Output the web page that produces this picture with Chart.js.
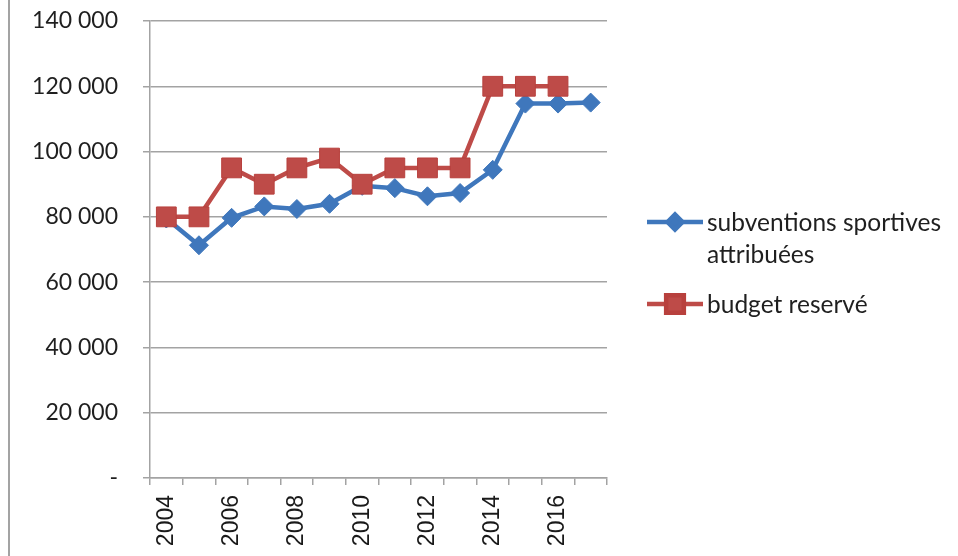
<!DOCTYPE html>
<html>
<head>
<meta charset="utf-8">
<script src="https://cdn.jsdelivr.net/npm/chart.js@4/dist/chart.umd.min.js"></script>
<style>
  html, body { margin: 0; padding: 0; background: #fff; }
  #wrap { width: 958px; height: 556px; }
</style>
</head>
<body>
<div id="wrap"><canvas id="subventionsChart" width="958" height="556"></canvas></div>
<script>
// Années et montants (en euros)
const annees = ['2004', '2005', '2006', '2007', '2008', '2009', '2010', '2011', '2012', '2013', '2014', '2015', '2016', '2017'];
const subventionsAttribuees = [79500, 71300, 79700, 83200, 82400, 84000, 89500, 88800, 86300, 87300, 94400, 114700, 114700, 115000];
const budgetReserve = [80000, 80000, 95000, 90000, 95000, 98000, 90000, 95000, 95000, 95000, 120000, 120000, 120000, null];
const libelles = [['subventions sportives', 'attribuées'], ['budget reservé']];

const bleu = '#3F77BC';
const rouge = '#BE4B48';
const gris = '#a3a3a3';

// Format "140 000", et "-" pour zéro
function formatMontant(v) {
    if (v === 0) return '-';
    return v.toString().replace(/\B(?=(\d{3})+(?!\d))/g, ' ');
}

// Légende dessinée à droite : trait + marqueur, puis texte sur plusieurs lignes
const legendeExcel = {
    id: 'legendeExcel',
    beforeDraw(chart) {
        const ctx = chart.ctx;
        ctx.save();
        ctx.strokeStyle = gris;
        ctx.lineWidth = 2;
        ctx.beginPath();
        ctx.moveTo(9, 0);
        ctx.lineTo(9, chart.height);
        ctx.stroke();
        ctx.restore();
    },
    afterDraw(chart) {
        const ctx = chart.ctx;
        const x0 = 647, x1 = 703;
        const lignes = [222, 304];
        ctx.save();
        chart.data.datasets.forEach(function(ds, i) {
            const y = lignes[i];
            ctx.strokeStyle = ds.borderColor;
            ctx.lineWidth = ds.borderWidth;
            ctx.beginPath();
            ctx.moveTo(x0, y);
            ctx.lineTo(x1, y);
            ctx.stroke();

            ctx.fillStyle = ds.pointBackgroundColor;
            ctx.strokeStyle = ds.pointBorderColor;
            Chart.helpers.drawPoint(ctx, {
                pointStyle: ds.pointStyle,
                radius: ds.pointStyle === 'rect' ? 12.5 : 7.5,
                rotation: 0,
                borderWidth: 1
            }, (x0 + x1) / 2, y);

            ctx.fillStyle = '#1f1f1f';
            ctx.font = '24.5px Lato';
            ctx.textBaseline = 'middle';
            ctx.textAlign = 'left';
            libelles[i].forEach(function(t, k) {
                ctx.fillText(t, x1 + 4, y + 1 + k * 32);
            });
        });
        ctx.restore();
    }
};

const ctx = document.getElementById('subventionsChart').getContext('2d');
new Chart(ctx, {
    type: 'line',
    data: {
        labels: annees,
        datasets: [{
            label: libelles[0].join(' '),
            data: subventionsAttribuees,
            borderColor: bleu,
            backgroundColor: bleu,
            borderWidth: 4.5,
            pointStyle: 'rectRot',
            pointRadius: 9.5,
            pointBackgroundColor: bleu,
            pointBorderColor: bleu,
            pointBorderWidth: 1,
            tension: 0,
            order: 1
        }, {
            label: libelles[1].join(' '),
            data: budgetReserve,
            borderColor: rouge,
            backgroundColor: rouge,
            borderWidth: 4.5,
            pointStyle: 'rect',
            pointRadius: 14,
            pointBackgroundColor: rouge,
            pointBorderColor: '#b8403d',
            pointBorderWidth: 1,
            tension: 0,
            order: 0
        }]
    },
    options: {
        responsive: false,
        animation: false,
        layout: {
            padding: { left: 10, top: 21, right: 351, bottom: 0 }
        },
        plugins: {
            legend: { display: false },
            tooltip: { enabled: false }
        },
        scales: {
            x: {
                offset: true,
                grid: {
                    offset: true,
                    drawOnChartArea: false,
                    drawTicks: true,
                    tickLength: 7,
                    color: gris,
                    lineWidth: 1.5
                },
                border: { color: gris, width: 1.5 },
                ticks: {
                    autoSkip: false,
                    minRotation: 90,
                    maxRotation: 90,
                    padding: 10,
                    color: '#1a1a1a',
                    font: { family: 'Liberation Sans', size: 23 },
                    callback: function(v, i) {
                        return i % 2 === 0 ? this.getLabelForValue(v) : '';
                    }
                },
                afterFit: function(scale) {
                    scale.height = 78;
                }
            },
            y: {
                min: 0,
                max: 140000,
                grid: {
                    color: gris,
                    lineWidth: 1.5,
                    tickLength: 7
                },
                border: { color: gris, width: 1.5 },
                ticks: {
                    stepSize: 20000,
                    padding: 25,
                    color: '#1f1f1f',
                    font: { family: 'Lato', size: 23 },
                    callback: function(v) {
                        return formatMontant(v);
                    }
                },
                afterFit: function(scale) {
                    scale.width = 140;
                    // pas de marge verticale liée au padding des étiquettes
                    scale.paddingTop = 0;
                    scale.paddingBottom = 0;
                }
            }
        }
    },
    plugins: [legendeExcel]
});
</script>
</body>
</html>
